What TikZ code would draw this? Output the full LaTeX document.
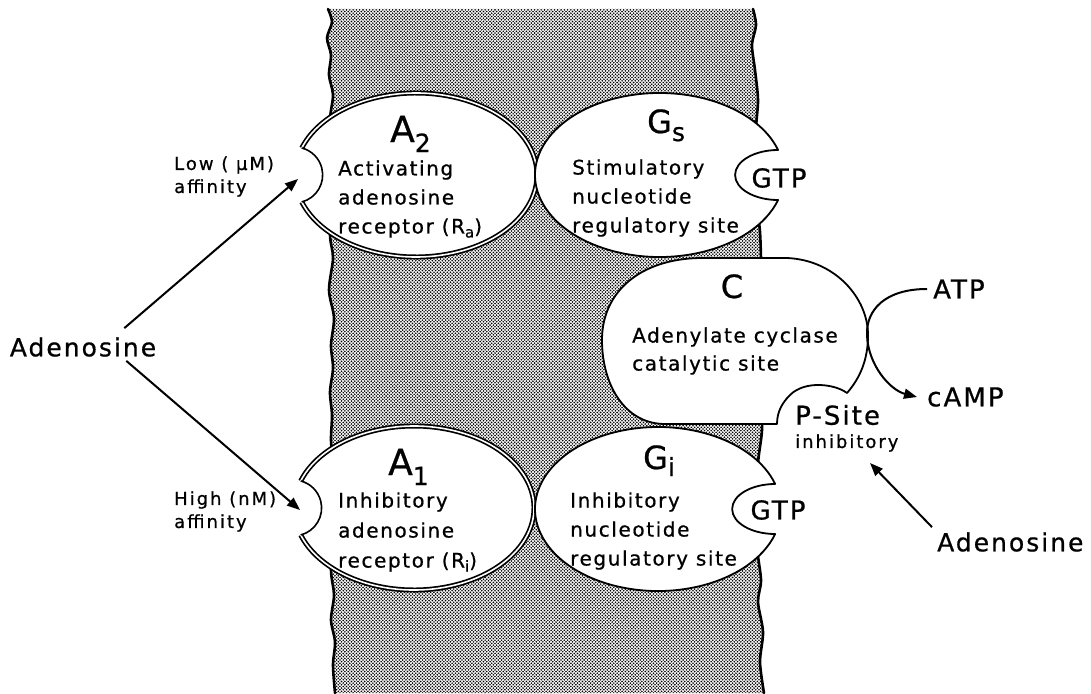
\documentclass[tikz,border=0pt]{standalone}
\usepackage{fontspec}
\setmainfont{DejaVu Sans}[LetterSpace=8,FakeBold=0.7]
\newfontfamily\smallfont{DejaVu Sans}[LetterSpace=11,FakeBold=0.7]
\usetikzlibrary{arrows.meta,patterns}
\newcommand\myfs[2]{\fontsize{#1}{#2}\selectfont}
\pgfdeclarepatternformonly{halftone}{\pgfqpoint{-1pt}{-1pt}}{\pgfqpoint{4.3pt}{4.3pt}}{\pgfqpoint{3.3pt}{3.3pt}}{%
  \pgfpathcircle{\pgfqpoint{0pt}{0pt}}{0.9pt}%
  \pgfpathcircle{\pgfqpoint{1.65pt}{1.65pt}}{0.9pt}%
  \pgfusepath{fill}}
\begin{document}
\begin{tikzpicture}[x=1pt,y=-1pt,
  edge/.style={line width=2.6pt, line join=round, line cap=round},
  shp/.style={line width=1.8pt, line join=round},
  dbl/.style={line width=1.7pt, double=white, double distance=1.6pt},
  arr/.style={line width=2pt, -{Triangle[length=13pt,width=10pt]}},
  body/.style={anchor=west, align=left, inner sep=0pt, font=\myfs{20}{29}},
  big/.style={anchor=base west, inner sep=0pt},
  mol/.style={inner sep=0pt, font=\myfs{26}{26}},
  sm/.style={anchor=west, inner sep=0pt, font=\smallfont\myfs{18}{21}},
]
\useasboundingbox[fill=white] (0,0) rectangle (1091,693);

% membrane
\fill[pattern=halftone] plot[smooth] coordinates {(328,9) (332,22) (327,38) (331,55) (329,75) (333,95) (330,120) (333,150) (331,190) (330,235) (333,258) (329,290) (334,318) (331,345) (333,368) (330,392) (332,415) (331,440) (333,470) (332,520) (331,570) (334,595) (331,620) (335,642) (333,665) (335,693)}
  -- plot[smooth] coordinates {(764,693) (760,662) (763,632) (758,602) (761,580) (757,545) (760,505) (758,465) (762,430) (761,395) (760,340) (762,290) (761,258) (760,232) (757,200) (760,165) (756,132) (758,100) (755,70) (752,45) (756,25) (753,9)} -- cycle;
\draw[edge] plot[smooth] coordinates {(328,9) (332,22) (327,38) (331,55) (329,75) (333,95) (330,120) (333,150) (331,190) (330,235) (333,258) (329,290) (334,318) (331,345) (333,368) (330,392) (332,415) (331,440) (333,470) (332,520) (331,570) (334,595) (331,620) (335,642) (333,665) (335,693)};
\draw[edge] plot[smooth] coordinates {(764,693) (760,662) (763,632) (758,602) (761,580) (757,545) (760,505) (758,465) (762,430) (761,395) (760,340) (762,290) (761,258) (760,232) (757,200) (760,165) (756,132) (758,100) (755,70) (752,45) (756,25) (753,9)};

% A2 receptor
\fill[white] (416,175) ++(199.2:121 and 82) arc[start angle=199.2,end angle=520.8,x radius=121,y radius=82] arc[start angle=75.5,end angle=-75.5,radius=27.9] -- cycle;
\draw[dbl] (416,175) ++(199.2:121 and 82) arc[start angle=199.2,end angle=520.8,x radius=121,y radius=82];
\draw[line width=1.6pt] (416,175) ++(160.8:121 and 82) arc[start angle=75.5,end angle=-75.5,radius=27.9];

% A1 receptor
\fill[white] (414,508) ++(199.2:120 and 82) arc[start angle=199.2,end angle=520.8,x radius=120,y radius=82] arc[start angle=75.5,end angle=-75.5,radius=27.9] -- cycle;
\draw[dbl] (414,508) ++(199.2:120 and 82) arc[start angle=199.2,end angle=520.8,x radius=120,y radius=82];
\draw[line width=1.6pt] (414,508) ++(160.8:120 and 82) arc[start angle=75.5,end angle=-75.5,radius=27.9];

% GTP pockets (white)
\fill[white] (778.1,175) ellipse[x radius=44, y radius=26];
\fill[white] (775.1,509) ellipse[x radius=44, y radius=26];
% Gs
\filldraw[shp, fill=white] (659.5,175) ++(-17.75:124.5 and 82) arc[start angle=-17.75,end angle=-342.25,x radius=124.5,y radius=82] arc[start angle=90,end angle=270,x radius=43,y radius=25] -- cycle;
% Gi
\filldraw[shp, fill=white] (658,509) ++(-17.75:123 and 82) arc[start angle=-17.75,end angle=-342.25,x radius=123,y radius=82] arc[start angle=90,end angle=270,x radius=43,y radius=25] -- cycle;

% C catalytic unit
\filldraw[shp, fill=white] (777,424) -- (665,424) .. controls (625,424) and (602,385) .. (602,340)
  .. controls (602,292) and (640,259) .. (700,258) -- (787,258)
  .. controls (835,260) and (868,298) .. (868,335)
  .. controls (868,360) and (860,378) .. (847,393)
  .. controls (835,384) and (805,380) .. (790,395)
  .. controls (782,403) and (777,412) .. (777,424) -- cycle;

% labels
\node[big, font=\myfs{36}{36}] (A2lbl) at (390,142) {A\raisebox{-10pt}{\myfs{25}{25}2}};
\node[big, font=\myfs{32}{32}] (Gslbl) at (647,133) {G\raisebox{-8pt}{\myfs{25}{25}s}};
\node[big, font=\myfs{36}{36}] (A1lbl) at (388,475) {A\raisebox{-10pt}{\myfs{25}{25}1}};
\node[big, font=\myfs{32}{32}] (Gilbl) at (643,469) {G\raisebox{-7pt}{\myfs{25}{25}i}};
\node[anchor=base, inner sep=0pt, font=\myfs{32}{32}] (Clbl) at (732,298) {C};

\node[body] (A2txt) at (338,199) {Activating\\adenosine\\receptor (R\raisebox{-4pt}{\myfs{15}{15}a})};
\node[body] (Gstxt) at (572,198) {Stimulatory\\nucleotide\\regulatory site};
\node[body, font=\myfs{20}{28}] (Ctxt) at (632,351) {Adenylate cyclase\\catalytic site};
\node[body, font=\myfs{20}{30}] (A1txt) at (338,532) {Inhibitory\\adenosine\\receptor (R\raisebox{-4pt}{\myfs{15}{15}i})};
\node[body] (Gitxt) at (570,531) {Inhibitory\\nucleotide\\regulatory site};

\node[mol] (GTPs) at (779,178) {GTP};
\node[mol] (GTPi) at (778,510) {GTP};
\node[mol, anchor=west] (ATP) at (933,289) {ATP};
\node[mol, anchor=west] (cAMP) at (927,397) {cAMP};
\node[mol, anchor=west] (Psite) at (795,415) {P-Site};
\node[sm] (inhib) at (795,443) {inhibitory};
\node[mol, anchor=west, font=\myfs{25}{25}] (adenR) at (937,542) {Adenosine};
\node[mol, font=\myfs{25}{25}] (adenL) at (83,347) {Adenosine};
\node[sm] (low) at (174,165) {Low ( μM)};
\node[sm] (aff1) at (174,188) {affinity};
\node[sm] (high) at (174,500) {High (nM)};
\node[sm] (aff2) at (174,523) {affinity};

% arrows
\coordinate (A2site) at (298,179);
\coordinate (A1site) at (300,510);
\coordinate (Ptarget) at (870,463);
\draw[arr] ([xshift=-32pt,yshift=9pt]adenL.north east) -- (A2site);
\draw[arr] ([xshift=-30pt,yshift=-4pt]adenL.south east) -- (A1site);
\draw[arr] ([xshift=-5pt,yshift=5pt]adenR.north west) -- (Ptarget);
\draw[arr] ([xshift=-6pt]ATP.west) .. controls (885,289) and (866,310) .. (867,335)
  .. controls (868,365) and (890,390) .. ([xshift=-10pt]cAMP.west);
\end{tikzpicture}
\end{document}
